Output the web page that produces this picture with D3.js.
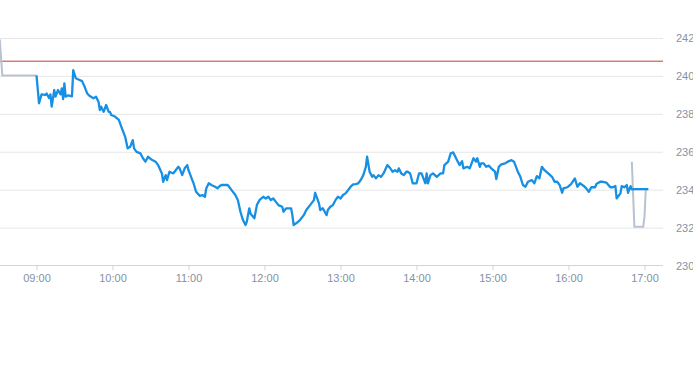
<!DOCTYPE html>
<html>
<head>
<meta charset="utf-8">
<script src="https://cdn.jsdelivr.net/npm/d3@7"></script>
<style>
  body { margin: 0; background: #fff; }
  text { font-family: "Liberation Sans", Arial, sans-serif; }
</style>
</head>
<body>
<svg id="chart" width="693" height="365"></svg>
<script>
// intraday price, regular session
var blueTimes = ["09:00","09:02","09:04","09:07","09:08","09:10","09:11","09:12","09:14","09:15","09:17","09:19","09:20","09:21","09:22","09:23","09:25","09:28","09:29","09:31","09:34","09:36","09:38","09:40","09:42","09:45","09:47","09:49","09:50","09:51","09:53","09:55","09:57","09:58","09:59",
  "10:02","10:05","10:07","10:10","10:12","10:14","10:16","10:17","10:19","10:22","10:24","10:26","10:28","10:31","10:34","10:36","10:39","10:40","10:42","10:43","10:45","10:48","10:49","10:52","10:53","10:55","10:57","10:59",
  "11:00","11:01","11:03","11:04","11:06","11:09","11:11","11:13","11:14","11:16","11:18","11:21","11:23","11:24","11:26","11:29","11:31","11:34","11:37","11:39","11:41","11:43","11:45","11:46","11:48","11:49","11:51","11:52","11:54","11:56","11:59",
  "12:01","12:03","12:05","12:07","12:09","12:11","12:14","12:15","12:17","12:19","12:21","12:22","12:23","12:25","12:28","12:31","12:33","12:36","12:39","12:40","12:43","12:44","12:46","12:49","12:50","12:52","12:54","12:56","12:58",
  "13:00","13:02","13:04","13:05","13:08","13:10","13:12","13:14","13:16","13:18","13:20","13:21","13:23","13:25","13:26","13:28","13:30","13:32","13:34","13:37","13:39","13:41","13:43","13:45","13:46","13:48","13:50","13:52","13:53","13:55","13:57",
  "14:00","14:02","14:04","14:05","14:07","14:08","14:09","14:11","14:13","14:16","14:19","14:21","14:22","14:25","14:27","14:29","14:30","14:32","14:34","14:36","14:37","14:40","14:42","14:43","14:45","14:47","14:48","14:50","14:51","14:53","14:55","14:57","14:59",
  "15:02","15:03","15:05","15:07","15:10","15:12","15:15","15:17","15:19","15:20","15:22","15:24","15:26","15:28","15:31","15:33","15:35","15:37","15:39","15:41","15:44","15:47","15:49","15:51","15:53","15:55","15:56","15:59",
  "16:02","16:05","16:07","16:09","16:12","16:14","16:16","16:18","16:21","16:22","16:25","16:27","16:30","16:33","16:35","16:37","16:38","16:41","16:42","16:44","16:46","16:47","16:49","16:50","16:53","17:03"];
var blueValues = [240.0,238.53,239.0,238.97,239.05,238.8,239.0,238.35,239.23,238.88,239.23,239.0,239.32,238.75,239.58,238.88,238.95,238.9,240.28,239.85,239.76,239.7,239.4,239.05,238.91,238.79,238.88,238.6,238.17,238.35,238.08,238.44,238.08,238.08,237.91,
  237.83,237.65,237.29,236.76,236.15,236.24,236.59,236.15,235.97,235.89,235.63,235.45,235.71,235.55,235.45,235.27,234.83,234.39,234.74,234.48,234.92,234.83,234.92,235.18,235.1,234.74,235.1,235.27,
  235.0,234.83,234.48,234.31,233.86,233.64,233.69,233.6,234.04,234.31,234.22,234.13,234.04,234.13,234.22,234.22,234.22,233.95,233.69,233.42,232.81,232.37,232.11,232.28,232.99,232.7,232.54,232.46,233.16,233.42,233.6,
  233.51,233.6,233.42,233.51,233.33,233.16,233.07,232.81,232.99,232.99,232.99,232.63,232.11,232.2,232.37,232.63,232.9,233.16,233.42,233.81,233.25,232.9,232.99,232.63,232.9,233.07,233.16,233.42,233.6,
  233.51,233.69,233.78,233.86,234.13,234.25,234.27,234.31,234.48,234.74,235.18,235.71,234.92,234.65,234.74,234.57,234.74,234.65,234.83,235.27,235.13,234.92,235.0,234.92,235.1,234.83,234.74,234.92,234.92,234.83,234.31,
  234.31,234.83,234.83,234.65,234.31,234.83,234.31,234.74,234.83,234.65,234.83,234.83,235.27,235.45,235.89,235.94,235.8,235.53,235.27,235.48,235.1,235.18,235.1,235.27,235.63,235.45,235.63,235.18,235.36,235.36,235.18,235.24,235.1,
  234.92,234.53,235.18,235.31,235.36,235.45,235.53,235.45,235.1,234.92,234.65,234.22,234.13,234.39,234.48,234.31,234.69,234.57,235.18,235.0,234.83,234.65,234.39,234.39,234.22,233.81,234.04,234.1,
  234.27,234.57,234.13,234.31,234.17,234.04,233.86,234.1,234.1,234.27,234.39,234.39,234.34,234.1,234.1,234.17,233.51,233.78,234.16,234.1,234.22,233.81,234.16,233.99,234.0,234.0];

// pre-market and after-hours pieces
var preTimes = ["08:31","08:33","09:00"];
var preValues = [241.9,240.0,240.0];
var postTimes = ["16:50","16:52","16:59","17:00","17:01","17:03"];
var postValues = [235.45,232.02,232.02,232.55,234.0,234.0];

var prevClose = 240.75;
var yTicks = [230,232,234,236,238,240,242];
var xTickLabels = ["09:00","10:00","11:00","12:00","13:00","14:00","15:00","16:00","17:00"];

var parse = d3.timeParse("%H:%M");
var svg = d3.select("#chart");

var plotLeft = 0, plotRight = 663, plotTop = 37.5, plotBottom = 265;

var x = d3.scaleTime()
  .domain([parse("09:00"), parse("17:00")])
  .range([36.5, 644.5]);
var y = d3.scaleLinear()
  .domain([230, 242])
  .range([plotBottom, plotTop]);

function zip(times, values) {
  return times.map(function(t, i) { return { t: parse(t), v: values[i] }; });
}

svg.append("defs").append("clipPath").attr("id", "clip")
  .append("rect")
  .attr("x", plotLeft).attr("y", 0)
  .attr("width", plotRight - plotLeft).attr("height", plotBottom + 1);

// horizontal grid + right labels
var yAxis = d3.axisRight(y)
  .tickValues(yTicks)
  .tickSize(plotRight - plotLeft)
  .tickFormat(d3.format("d"));
var gy = svg.append("g").attr("transform", "translate(" + plotLeft + ",0.5)").call(yAxis);
gy.select(".domain").remove();
gy.selectAll(".tick line").attr("stroke", "#e6e6e6");
gy.selectAll(".tick text")
  .attr("x", plotRight - plotLeft + 13)
  .attr("fill", "#8592a3")
  .attr("font-size", 11);
gy.selectAll(".tick").filter(function(d) { return d === 230; }).select("line").remove();

// bottom axis
var xAxis = d3.axisBottom(x)
  .tickValues(xTickLabels.map(parse))
  .tickSize(5)
  .tickSizeOuter(0)
  .tickFormat(d3.timeFormat("%H:%M"));
var gx = svg.append("g").attr("transform", "translate(0," + (plotBottom + 0.5) + ")").call(xAxis);
gx.select(".domain").attr("d", "M" + plotLeft + ",0H" + plotRight).attr("stroke", "#ccd6e0");
gx.selectAll(".tick line").attr("stroke", "#ccd6e0");
gx.selectAll(".tick text")
  .attr("y", 9)
  .attr("fill", "#8592a3")
  .attr("font-size", 11);

// previous close
svg.append("line")
  .attr("x1", plotLeft).attr("x2", plotRight)
  .attr("y1", y(prevClose)).attr("y2", y(prevClose))
  .attr("stroke", "#c43c2e")
  .attr("stroke-width", 1);

var line = d3.line()
  .x(function(d) { return x(d.t); })
  .y(function(d) { return y(d.v); });

var plot = svg.append("g").attr("clip-path", "url(#clip)");

plot.append("path")
  .datum(zip(preTimes, preValues))
  .attr("d", line)
  .attr("fill", "none")
  .attr("stroke", "#b7c3cf")
  .attr("stroke-width", 2);

plot.append("path")
  .datum(zip(postTimes, postValues))
  .attr("d", line)
  .attr("fill", "none")
  .attr("stroke", "#b7c3cf")
  .attr("stroke-width", 2);

plot.append("path")
  .datum(zip(blueTimes, blueValues))
  .attr("d", line)
  .attr("fill", "none")
  .attr("stroke", "#1790e4")
  .attr("stroke-width", 2.3)
  .attr("stroke-linejoin", "round");
</script>
</body>
</html>
